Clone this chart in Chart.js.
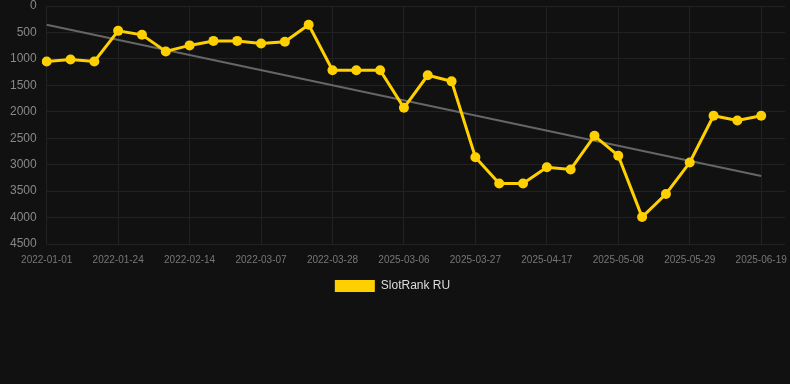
<!DOCTYPE html>
<html>
<head>
<meta charset="utf-8">
<script src="https://cdn.jsdelivr.net/npm/chart.js@4/dist/chart.umd.min.js"></script>
<style>
  html, body { margin: 0; padding: 0; background: #111111; }
  #wrap { width: 790px; height: 384px; }
</style>
</head>
<body>
<div id="wrap"><canvas id="c" width="790" height="384"></canvas></div>
<script>
const categories = [
  "2022-01-01","2022-01-10","2022-01-17","2022-01-24","2022-01-31","2022-02-07",
  "2022-02-14","2022-02-21","2022-02-28","2022-03-07","2022-03-14","2022-03-21",
  "2022-03-28","2022-04-04","2022-04-11","2025-03-06","2025-03-13","2025-03-20",
  "2025-03-27","2025-04-03","2025-04-10","2025-04-17","2025-04-24","2025-05-01",
  "2025-05-08","2025-05-15","2025-05-22","2025-05-29","2025-06-05","2025-06-12",
  "2025-06-19",""
];
const rankValues = [
  1050, 1010, 1050, 470, 545, 860,
  745, 660, 660, 710, 675, 355,
  1215, 1215, 1215, 1925, 1310, 1425,
  2860, 3355, 3355, 3050, 3090, 2455,
  2830, 3990, 3555, 2960, 2075, 2165,
  2075, null
];
const trendValues = [
  355, null, null, null, null, null, null, null, null, null, null, null, null, null, null, null,
  null, null, null, null, null, null, null, null, null, null, null, null, null, null,
  3215, null
];
const yTicks = [0, 500, 1000, 1500, 2000, 2500, 3000, 3500, 4000, 4500];

new Chart(document.getElementById('c'), {
  type: 'line',
  data: {
    labels: categories,
    datasets: [
      {
        label: 'SlotRank RU',
        data: rankValues,
        borderColor: '#FFD000',
        backgroundColor: '#FFD000',
        borderWidth: 3,
        pointRadius: 5,
        pointBorderWidth: 0,
        pointBackgroundColor: '#FFD000',
        tension: 0,
        order: 1
      },
      {
        label: 'trend',
        data: trendValues,
        borderColor: '#666666',
        borderWidth: 2,
        pointRadius: 0,
        spanGaps: true,
        tension: 0,
        order: 2
      }
    ]
  },
  options: {
    responsive: false,
    animation: false,
    layout: { padding: { left: 0, right: 5, top: 0, bottom: 82 } },
    plugins: {
      legend: {
        position: 'bottom',
        labels: {
          color: '#dddddd',
          padding: 14,
          font: { family: 'Liberation Sans, Arial, sans-serif', size: 12 },
          boxWidth: 40,
          boxHeight: 12,
          generateLabels: (chart) => {
            const items = Chart.defaults.plugins.legend.labels.generateLabels(chart);
            items.forEach(it => { it.lineWidth = 0; });
            return items;
          },
          filter: (item) => item.text !== 'trend'
        }
      },
      tooltip: { enabled: false }
    },
    scales: {
      x: {
        offset: false,
        grid: {
          color: (ctx) => (ctx.index % 3 === 0 && ctx.index < 31) ? '#222222' : 'rgba(0,0,0,0)',
          drawTicks: true,
          tickLength: 10,
          tickColor: 'rgba(0,0,0,0)'
        },
        border: { display: false },
        ticks: {
          autoSkip: false,
          maxRotation: 0,
          color: '#777777',
          padding: 0,
          font: { family: 'Liberation Sans, Arial, sans-serif', size: 10 },
          callback: function(v, i) { return (i % 3 === 0) ? categories[i] : ''; }
        }
      },
      y: {
        reverse: true,
        min: 0,
        max: 4500,
        afterBuildTicks: (axis) => { axis.ticks = yTicks.map(v => ({ value: v })); },
        afterFit: (axis) => { axis.width += 10; },
        grid: {
          color: '#222222',
          drawTicks: true,
          tickLength: 10,
          tickColor: 'rgba(0,0,0,0)'
        },
        border: { display: false },
        ticks: {
          color: '#888888',
          padding: 0,
          font: { family: 'Liberation Sans, Arial, sans-serif', size: 12, lineHeight: 1 },
          callback: (v) => String(v)
        }
      }
    }
  }
});
</script>
</body>
</html>
